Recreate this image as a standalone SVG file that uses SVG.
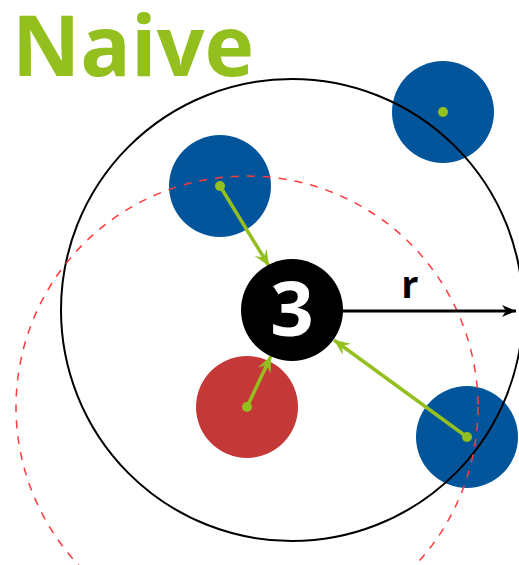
<svg xmlns="http://www.w3.org/2000/svg" width="519" height="565" viewBox="0 0 519 565">
<style>
.blue{fill:#02559b}
.red{fill:#c53838}
.dot{fill:#93c01f}
.g{stroke:#93c01f;stroke-width:3.5;fill:none}
.lbl{font-family:"Open Sans","DejaVu Sans",sans-serif;font-weight:bold}
</style>
<defs>
<marker id="ag" viewBox="-16 -8 18 16" refX="0" refY="0" markerWidth="18" markerHeight="16" markerUnits="userSpaceOnUse" orient="auto">
<path d="M0,0 L-16,-7 L-10,0 L-16,7 Z" fill="#93c01f"/>
</marker>
<marker id="ak" viewBox="-16 -8 18 16" refX="0" refY="0" markerWidth="18" markerHeight="16" markerUnits="userSpaceOnUse" orient="auto">
<path d="M0,0 L-14,-6 L-10,0 L-14,6 Z" fill="#000"/>
</marker>
</defs>
<rect width="519" height="565" fill="#fff"/>
<text x="12" y="76" class="lbl" font-size="84" fill="#93c01f">Naive</text>
<g id="n1"><circle cx="443" cy="112" r="51" class="blue"/><circle cx="443" cy="112" r="5" class="dot"/></g>
<g id="n2"><circle cx="220" cy="186" r="51" class="blue"/><circle cx="220" cy="186" r="5" class="dot"/></g>
<g id="n4"><circle cx="247" cy="407" r="51" class="red"/><circle cx="247" cy="407" r="5" class="dot"/></g>
<g id="n5"><circle cx="467" cy="437" r="51" class="blue"/><circle cx="467" cy="437" r="5" class="dot"/></g>
<circle cx="292" cy="310" r="231" fill="none" stroke="#000" stroke-width="2"/>
<circle cx="247" cy="407" r="231" fill="none" stroke="#ff3b3b" stroke-width="1.5" stroke-dasharray="8,8"/>
<g id="edges">
<line x1="220" y1="186" x2="269" y2="266" class="g" marker-end="url(#ag)"/>
<line x1="247" y1="407" x2="271" y2="356" class="g" marker-end="url(#ag)"/>
<line x1="467" y1="437" x2="334" y2="340" class="g" marker-end="url(#ag)"/>
<line x1="340" y1="311" x2="516" y2="311" stroke="#000" stroke-width="3" marker-end="url(#ak)"/>
</g>
<g id="n3"><circle cx="292" cy="310" r="51" fill="#000"/><text x="292" y="336" class="lbl" font-size="76" fill="#fff" text-anchor="middle">3</text></g>
<text x="410" y="298" class="lbl" font-size="38" fill="#000" text-anchor="middle">r</text>
</svg>
